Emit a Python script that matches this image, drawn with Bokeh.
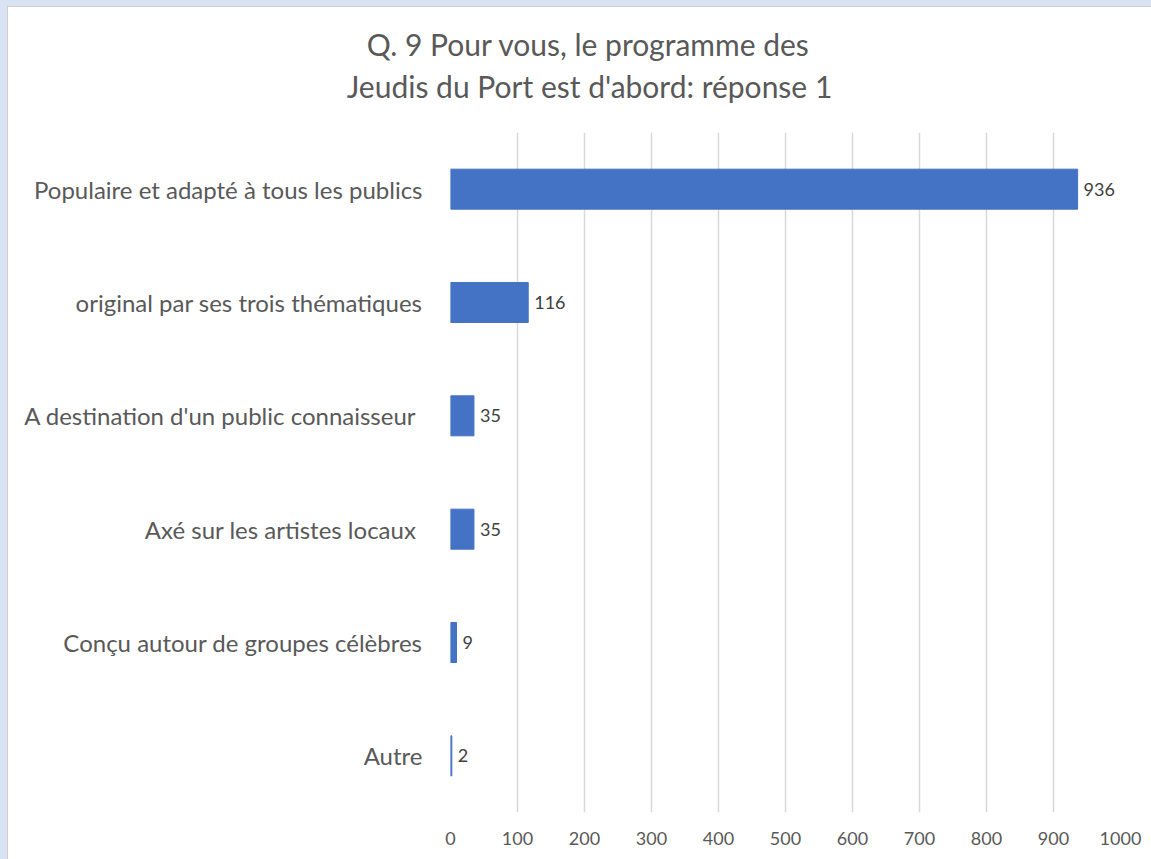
from bokeh.plotting import figure
from bokeh.layouts import column
from bokeh.models import ColumnDataSource, FactorRange, Range1d, SingleIntervalTicker
from bokeh.core.properties import value
from bokeh.embed import file_html
from bokeh.resources import INLINE

title_lines = ["Q. 9 Pour vous, le programme des", "Jeudis du Port est d'abord: réponse 1"]
categories = [
    "Populaire et adapté à tous les publics",
    "original par ses trois thématiques",
    "A destination d'un public connaisseur ",
    "Axé sur les artistes locaux ",
    "Conçu autour de groupes célèbres",
    "Autre",
]
counts = [936, 116, 35, 35, 9, 2]
x_max = 1000
tick_step = 100

FONT = "Lato"
BAR = "#4472c4"
GREY = "#595959"
W = 1143

# ---- title strip (its own small figure, pixel coordinates) ----
TH = 125
tp = figure(width=W, height=TH, x_range=Range1d(0, W), y_range=Range1d(0, TH),
            output_backend="svg", toolbar_location=None,
            min_border=0, outline_line_color=None)
tp.frame_align = False
tp.axis.visible = False
tp.grid.visible = False
tp.background_fill_color = "white"
tp.border_fill_color = "white"
tsrc = ColumnDataSource(dict(x=[580, 581], y=[TH - 36, TH - 78], t=title_lines))
tp.text(x="x", y="y", text="t", source=tsrc, text_align="center", text_baseline="middle",
        text_font=value(FONT), text_font_size="30px", text_color=GREY)

# ---- main bar chart ----
src = ColumnDataSource(dict(cat=categories, n=counts, lab=[str(v) for v in counts]))

p = figure(
    width=W, height=727,
    y_range=FactorRange(factors=list(reversed(categories))),
    x_range=Range1d(0, x_max),
    output_backend="svg", toolbar_location=None,
    min_border_left=442, min_border_right=W - 1112, min_border_top=0, min_border_bottom=47,
)
p.frame_align = False
p.background_fill_color = "white"
p.border_fill_color = "white"
p.outline_line_color = None

p.hbar(y="cat", right="n", left=0, height=0.353, source=src, color=BAR)
p.text(x="n", y="cat", text="lab", source=src, x_offset=6, text_baseline="middle",
       text_align="left", text_font=value(FONT), text_font_size="18px", text_color="#404040")

p.xaxis.ticker = SingleIntervalTicker(interval=tick_step)
p.xaxis.axis_line_color = None
p.xaxis.major_tick_line_color = None
p.xaxis.minor_tick_line_color = None
p.xaxis.major_label_text_font = FONT
p.xaxis.major_label_text_font_size = "18px"
p.xaxis.major_label_text_color = GREY
p.xaxis.major_label_standoff = 13

p.yaxis.axis_line_color = None
p.yaxis.major_tick_line_color = None
p.yaxis.minor_tick_line_color = None
p.yaxis.major_label_text_font = FONT
p.yaxis.major_label_text_font_size = "24px"
p.yaxis.major_label_text_color = GREY
p.yaxis.major_label_standoff = 22

p.xgrid.grid_line_color = "#d9d9d9"
p.xgrid.grid_line_width = 1.5
p.ygrid.grid_line_color = None

inner = column(tp, p, spacing=0, styles={"background-color": "white",
                                          "border-left": "1px solid #d0d0d0",
                                          "border-top": "1px solid #d0d0d0"})
page = column(inner, styles={"background-color": "#dae3f3", "padding": "6px 0 0 7px",
                             "width": "1151px", "height": "859px"})

open("out.html", "w").write(file_html(page, INLINE))
